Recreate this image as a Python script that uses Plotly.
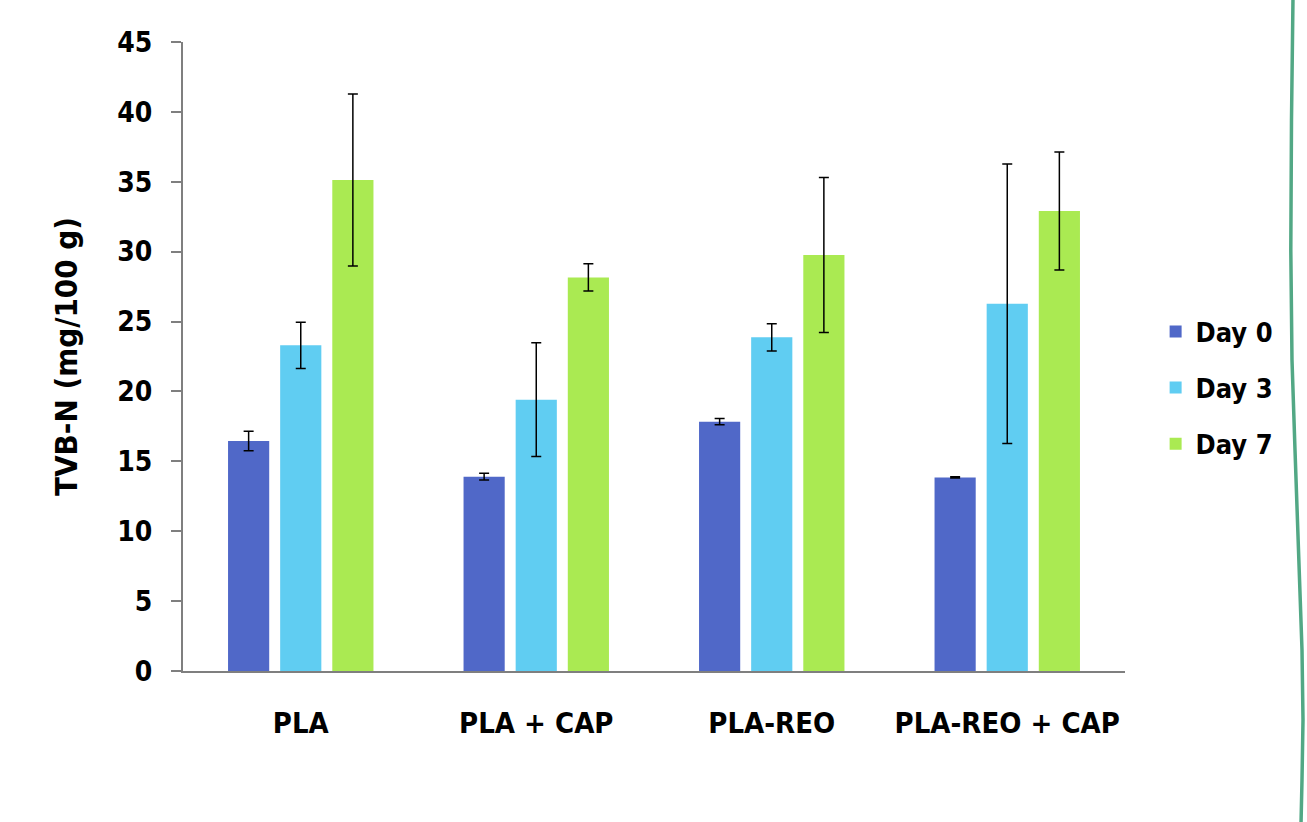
import plotly.graph_objects as go

categories = ["PLA", "PLA + CAP", "PLA-REO", "PLA-REO + CAP"]
series_names = ["Day 0", "Day 3", "Day 7"]
day0 = [16.45, 13.90, 17.84, 13.85]
day0_err = [0.70, 0.24, 0.22, 0.05]
day3 = [23.30, 19.41, 23.87, 26.28]
day3_err = [1.65, 4.07, 0.98, 10.0]
day7 = [35.13, 28.16, 29.76, 32.91]
day7_err = [6.15, 0.97, 5.55, 4.22]
y_ticks = [0, 5, 10, 15, 20, 25, 30, 35, 40, 45]

colors = ["#5068c8", "#60cdf2", "#aaea52"]
FONT = "DejaVu Sans Condensed, Liberation Sans Narrow, sans-serif"

W, H = 1307, 822
L, T = 183, 42
R = W - 1125
B = H - 671

fig = go.Figure()
for i, (name, vals, errs) in enumerate(zip(series_names, [day0, day3, day7], [day0_err, day3_err, day7_err])):
    fig.add_trace(go.Bar(
        x=categories, y=vals, name=name,
        marker=dict(color=colors[i], line=dict(width=0)),
        error_y=dict(type="data", array=errs, visible=True, color="#000000", thickness=1.5, width=5),
        legendgroup=name,
    ))

# decorative green curve at right edge (screen pixel -> paper conversion)
pw, ph = W - L - R, H - T - B
def px(x):
    return (x - L) / pw
def py(y):
    return (H - B - y) / ph
curve_pts = [(1293, -2), (1291.5, 120), (1290.8, 250), (1292, 360), (1295, 450),
             (1298.5, 550), (1302, 650), (1303, 720), (1302, 780), (1301, 824)]
path = "M " + " L ".join(f"{px(a):.5f} {py(b):.5f}" for a, b in curve_pts)
fig.add_shape(type="path", path=path, xref="paper", yref="paper",
              line=dict(color="#52a885", width=3.5), layer="above")

fig.update_layout(
    width=W, height=H,
    margin=dict(l=L, r=R, t=T, b=B, pad=0, autoexpand=False),
    paper_bgcolor="white", plot_bgcolor="white",
    barmode="group", bargap=0.336, bargroupgap=0.21,
    font=dict(family=FONT, color="#000000", size=28, weight="bold"),
    showlegend=True,
    legend=dict(x=1.0325, y=0.45, xanchor="left", yanchor="middle",
                font=dict(family=FONT, size=27, color="#000000", weight="bold"),
                tracegroupgap=18, itemwidth=30, bgcolor="rgba(0,0,0,0)"),
    xaxis=dict(showline=True, linecolor="#7f7f7f", linewidth=2, ticks="",
               tickfont=dict(family=FONT, size=29, color="#000000", weight="bold"),
               ticklabelstandoff=25, showgrid=False, zeroline=False, automargin=False),
    yaxis=dict(range=[0, 45], tickvals=y_ticks, showline=True, linecolor="#7f7f7f", linewidth=2,
               ticks="outside", ticklen=10, tickwidth=2, tickcolor="#7f7f7f",
               tickfont=dict(family=FONT, size=28, color="#000000", weight="bold"),
               ticklabelstandoff=13, showgrid=False, zeroline=False, automargin=False,
               title=dict(text="TVB-N (mg/100 g)", font=dict(family=FONT, size=31, color="#000000", weight="bold"), standoff=30)),
)

fig.write_html("out.html", config={"displayModeBar": False},
               post_script="document.body.style.margin='0';document.documentElement.style.overflow='hidden';")
